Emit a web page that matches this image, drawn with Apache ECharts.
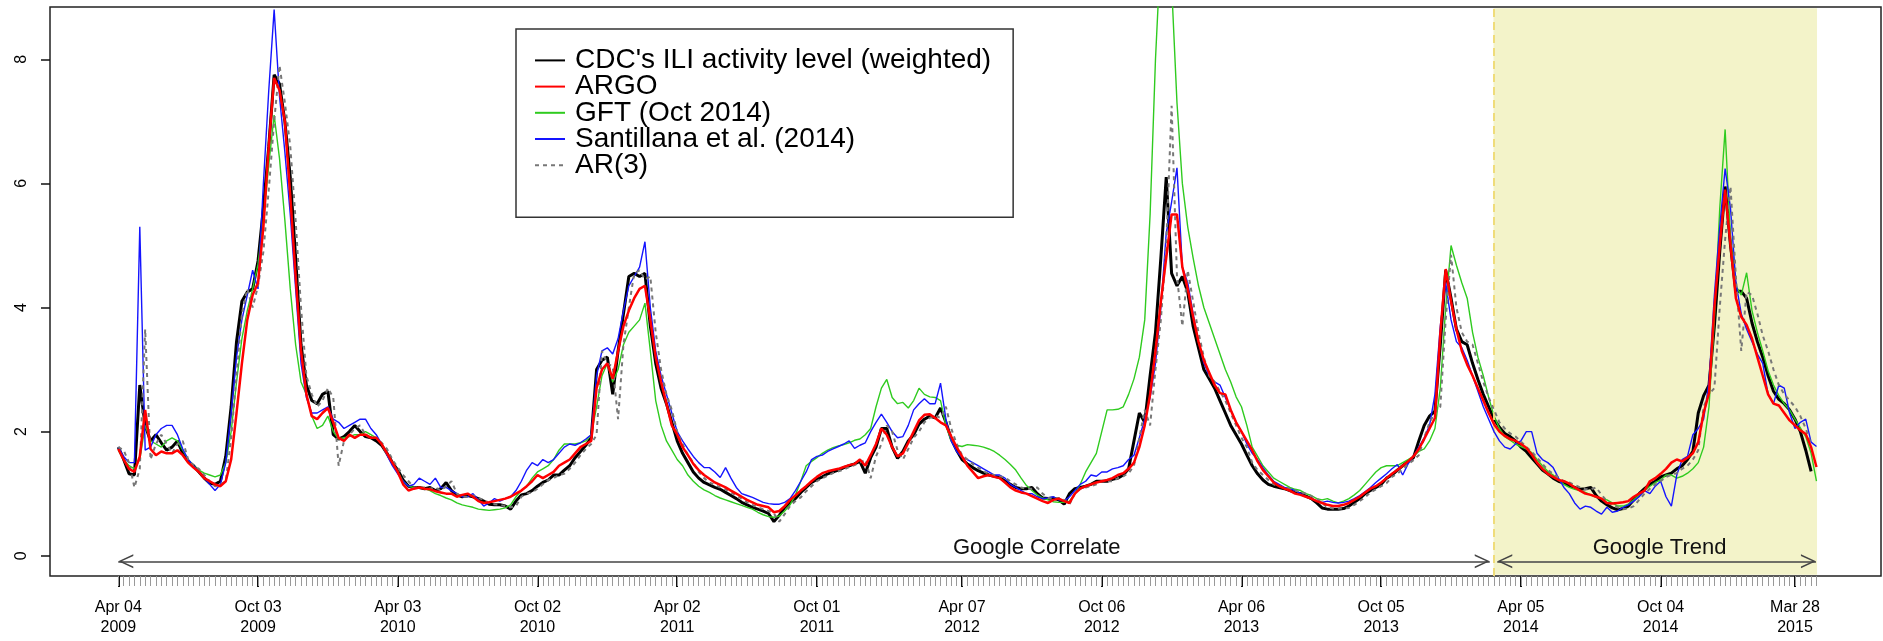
<!DOCTYPE html>
<html>
<head>
<meta charset="utf-8">
<script src="https://cdn.jsdelivr.net/npm/echarts@6/dist/echarts.min.js"></script>
<style>
  html, body { margin: 0; padding: 0; background: #fff; }
  #chart { width: 1883px; height: 641px; }
</style>
</head>
<body>
<div id="chart"></div>
<script>
// weekly series, index 0 = week ending Apr 04 2009
const cdc = [
  1.75, 1.55, 1.32, 1.3, 2.75, 2.1, 1.85, 1.95, 1.82, 1.7,
  1.75, 1.85, 1.65, 1.52, 1.45, 1.35, 1.25, 1.17, 1.15, 1.2,
  1.6, 2.4, 3.45, 4.1, 4.25, 4.3, 4.75, 5.6, 6.6, 7.75,
  7.6, 7.0, 6.1, 4.8, 3.4, 2.75, 2.5, 2.45, 2.6, 2.65,
  1.95, 1.88, 1.92, 2.0, 2.1, 2.0, 1.92, 1.9, 1.85, 1.78,
  1.65, 1.5, 1.38, 1.22, 1.12, 1.1, 1.1, 1.08, 1.1, 1.05,
  1.08, 1.18, 1.05, 0.98, 0.95, 0.97, 0.95, 0.92, 0.88, 0.83,
  0.82, 0.82, 0.8, 0.75, 0.88, 0.98, 1.0, 1.05, 1.12, 1.18,
  1.22, 1.3, 1.3, 1.38, 1.45, 1.58, 1.68, 1.78, 1.9, 3.0,
  3.15, 3.2, 2.6, 3.3, 3.9, 4.5, 4.55, 4.5, 4.55, 3.7,
  3.1, 2.7, 2.45, 2.15, 1.85, 1.65, 1.5, 1.35, 1.25, 1.18,
  1.14, 1.1, 1.07, 1.02, 0.97, 0.92, 0.86, 0.82, 0.78, 0.75,
  0.72, 0.68, 0.55, 0.65, 0.78, 0.86, 0.92, 1.02, 1.1, 1.18,
  1.23, 1.27, 1.32, 1.35, 1.38, 1.42, 1.45, 1.48, 1.52, 1.33,
  1.58, 1.75, 2.05, 2.05, 1.75, 1.57, 1.68, 1.85, 1.95, 2.12,
  2.2, 2.25, 2.22, 2.38, 2.15, 1.88, 1.7, 1.55, 1.48, 1.42,
  1.37, 1.33, 1.3, 1.28, 1.26, 1.2, 1.15, 1.1, 1.08, 1.08,
  1.1, 1.0, 0.93, 0.92, 0.93, 0.9, 0.83, 1.0, 1.08, 1.1,
  1.12, 1.15, 1.2, 1.2, 1.2, 1.23, 1.25, 1.3, 1.4, 1.85,
  2.3, 2.15, 2.9, 3.6, 4.8, 6.1, 4.55, 4.35, 4.5, 4.25,
  3.7, 3.35, 3.0, 2.85, 2.7, 2.5, 2.3, 2.1, 1.95, 1.8,
  1.62, 1.45, 1.32, 1.22, 1.15, 1.12, 1.1, 1.08, 1.05, 1.02,
  1.0, 0.96, 0.92, 0.85, 0.77, 0.75, 0.75, 0.75, 0.76, 0.8,
  0.86, 0.92, 1.0, 1.05, 1.1, 1.15, 1.25, 1.3, 1.38, 1.45,
  1.52, 1.58, 1.85, 2.1, 2.25, 2.33, 3.4, 4.6, 4.15, 3.65,
  3.45, 3.4, 3.1, 2.84, 2.6, 2.4, 2.2, 2.07, 1.97, 1.92,
  1.85, 1.75, 1.68, 1.58, 1.48, 1.38, 1.32, 1.25, 1.2, 1.17,
  1.13, 1.1, 1.07, 1.08, 1.1, 0.97, 0.88, 0.82, 0.77, 0.74,
  0.76, 0.8, 0.9, 1.0, 1.08, 1.15, 1.2, 1.27, 1.3, 1.33,
  1.4, 1.45, 1.55, 1.68, 2.3, 2.58, 2.75, 3.7, 4.9, 5.95,
  5.0, 4.26, 4.26, 4.15, 3.75, 3.45, 3.2, 2.9, 2.65, 2.52,
  2.45, 2.35, 2.2, 2.0, 1.7, 1.36, null
];
const argo = [
  1.72, 1.55, 1.4, 1.35, 1.6, 2.35, 1.72, 1.62, 1.68, 1.65,
  1.65, 1.7, 1.62, 1.5, 1.42, 1.35, 1.25, 1.2, 1.15, 1.12,
  1.2, 1.55, 2.3, 3.1, 3.8, 4.2, 4.4, 5.3, 6.6, 7.7,
  7.5, 7.0, 5.8, 4.5, 3.3, 2.6, 2.25, 2.2, 2.3, 2.38,
  2.15, 1.9, 1.85, 1.95, 1.9, 1.95, 1.95, 1.9, 1.9, 1.8,
  1.65, 1.5, 1.35, 1.15, 1.05, 1.08, 1.1, 1.08, 1.07, 1.04,
  1.02, 1.0, 1.0, 0.95, 0.98, 1.0, 0.95, 0.88, 0.85, 0.86,
  0.88, 0.9, 0.92, 0.95, 1.0, 1.05, 1.12, 1.2, 1.3, 1.25,
  1.3, 1.35, 1.45, 1.5, 1.55, 1.65, 1.75, 1.8, 1.85, 2.7,
  3.0, 3.1, 2.85, 3.3, 3.7, 3.95, 4.15, 4.3, 4.35, 3.8,
  3.2, 2.8, 2.45, 2.1, 1.95, 1.75, 1.62, 1.48, 1.38, 1.3,
  1.24, 1.18, 1.14, 1.1, 1.05, 1.0, 0.95, 0.9, 0.86, 0.82,
  0.8, 0.78, 0.7, 0.72, 0.8, 0.9, 0.97, 1.05, 1.12, 1.2,
  1.27, 1.33, 1.36, 1.38, 1.4, 1.43, 1.46, 1.48, 1.55, 1.45,
  1.62, 1.8, 2.05, 1.95, 1.75, 1.6, 1.65, 1.82, 2.0, 2.18,
  2.27, 2.28, 2.22, 2.15, 2.1, 1.92, 1.75, 1.6, 1.45, 1.35,
  1.25, 1.28, 1.3, 1.27, 1.25, 1.18, 1.1, 1.05, 1.02, 1.0,
  0.96, 0.92, 0.88, 0.85, 0.9, 0.92, 0.88, 0.85, 1.0, 1.08,
  1.12, 1.15, 1.18, 1.2, 1.22, 1.25, 1.3, 1.33, 1.4, 1.5,
  1.75, 2.1, 2.6, 3.3, 4.1, 4.8, 5.5, 5.5, 4.65, 4.3,
  3.85, 3.45, 3.15, 2.95, 2.75, 2.62, 2.6, 2.35, 2.15, 2.0,
  1.85, 1.7, 1.52, 1.38, 1.28, 1.18, 1.12, 1.08, 1.05, 1.0,
  0.98, 0.95, 0.92, 0.88, 0.85, 0.82, 0.8, 0.8, 0.82, 0.85,
  0.9, 0.95, 1.02, 1.08, 1.12, 1.18, 1.25, 1.32, 1.38, 1.45,
  1.52, 1.6, 1.72, 1.88, 2.05, 2.22, 3.58, 4.62, 4.1, 3.65,
  3.3, 3.08, 2.9, 2.7, 2.5, 2.3, 2.12, 2.0, 1.93, 1.88,
  1.85, 1.8, 1.74, 1.63, 1.5, 1.4, 1.32, 1.27, 1.22, 1.2,
  1.16, 1.1, 1.05, 1.0, 0.98, 0.95, 0.92, 0.85, 0.84, 0.85,
  0.86, 0.88, 0.95, 1.0, 1.05, 1.2, 1.25, 1.32, 1.4, 1.5,
  1.55, 1.52, 1.58, 1.65, 1.83, 2.3, 2.62, 4.0, 5.0, 5.9,
  5.0, 4.15, 3.85, 3.72, 3.5, 3.2, 2.9, 2.6, 2.45, 2.42,
  2.3, 2.18, 2.1, 2.02, 1.96, 1.75, 1.43
];
const gft = [
  1.7, 1.55, 1.45, 1.4, 1.55, 2.1, 1.85, 1.8, 1.75, 1.85,
  1.9, 1.85, 1.7, 1.55, 1.45, 1.38, 1.33, 1.3, 1.27, 1.3,
  1.5, 2.0, 2.8, 3.5, 3.95, 4.3, 4.7, 5.4, 6.3, 7.1,
  6.4, 5.4, 4.3, 3.4, 2.8, 2.6, 2.25, 2.05, 2.1, 2.25,
  2.0, 1.88, 1.9, 1.92, 1.95, 1.95, 2.0, 1.95, 1.9, 1.8,
  1.62, 1.48, 1.35, 1.2, 1.12, 1.1, 1.1, 1.08, 1.05, 1.0,
  0.97, 0.93, 0.9, 0.85, 0.82, 0.8, 0.78, 0.75, 0.74, 0.73,
  0.74, 0.75, 0.77, 0.82, 0.95, 1.05, 1.12, 1.25, 1.35, 1.4,
  1.45, 1.55, 1.7, 1.8, 1.8, 1.8, 1.82, 1.85, 1.95, 2.4,
  2.9, 3.1, 2.8, 3.0, 3.4, 3.6, 3.7, 3.8, 4.07, 3.3,
  2.5, 2.1, 1.85, 1.7, 1.55, 1.45, 1.3, 1.2, 1.12, 1.06,
  1.02, 0.97, 0.93, 0.9, 0.87, 0.84, 0.81, 0.78, 0.75, 0.7,
  0.66, 0.63, 0.62, 0.64, 0.72, 0.82, 0.98, 1.2, 1.45, 1.52,
  1.58, 1.65, 1.7, 1.74, 1.77, 1.79, 1.82, 1.86, 1.88, 1.95,
  2.05, 2.4, 2.7, 2.84, 2.55, 2.45, 2.47, 2.38, 2.5, 2.7,
  2.6, 2.56, 2.55, 2.5, 2.1, 1.85, 1.78, 1.76, 1.79, 1.78,
  1.77, 1.75, 1.72, 1.68, 1.62, 1.55, 1.47, 1.38, 1.25, 1.13,
  1.05, 0.98, 0.93, 0.9, 0.87, 0.86, 0.86, 0.88, 1.0, 1.15,
  1.35, 1.5, 1.65, 2.0, 2.35, 2.35, 2.36, 2.4, 2.6, 2.85,
  3.2, 3.8, 5.5, 8.0, 9.8, 10.2, 9.2, 7.3, 6.0, 5.3,
  4.8, 4.35, 4.0, 3.75, 3.5, 3.25, 3.0, 2.8, 2.56, 2.4,
  2.1, 1.75, 1.6, 1.45, 1.35, 1.25, 1.2, 1.15, 1.1, 1.07,
  1.05, 1.0, 0.97, 0.92, 0.9, 0.92, 0.88, 0.85, 0.88, 0.92,
  0.98, 1.05, 1.15, 1.25, 1.35, 1.42, 1.45, 1.45, 1.45, 1.5,
  1.55, 1.6, 1.68, 1.72, 1.85, 2.05, 2.7, 4.0, 5.0, 4.68,
  4.4, 4.15, 3.6, 3.2, 2.9, 2.55, 2.25, 2.05, 1.92, 1.86,
  1.8, 1.76, 1.72, 1.66, 1.55, 1.45, 1.36, 1.3, 1.22, 1.15,
  1.1, 1.07, 1.05, 1.02, 0.98, 0.94, 0.92, 0.9, 0.85, 0.8,
  0.8, 0.83, 0.9, 0.98, 1.05, 1.12, 1.18, 1.22, 1.3, 1.3,
  1.25, 1.28, 1.33, 1.4, 1.5, 1.75, 2.4, 3.8, 5.6, 6.87,
  5.1, 4.35, 4.2, 4.56, 3.95, 3.6, 3.3, 2.98, 2.75, 2.58,
  2.45, 2.35, 2.2, 2.06, 1.92, 1.65, 1.2
];
const santillana = [
  1.75, 1.6, 1.5, 1.5, 5.3, 1.7, 1.75, 1.95, 2.05, 2.1,
  2.1, 1.95, 1.72, 1.55, 1.45, 1.35, 1.25, 1.15, 1.05, 1.15,
  1.5, 2.3, 3.2, 3.8, 4.2, 4.6, 4.3, 6.0, 7.5, 8.8,
  7.4, 6.5, 5.5, 4.3, 3.1, 2.55, 2.3, 2.3, 2.35, 2.4,
  2.2, 2.15, 2.05, 2.1, 2.15, 2.2, 2.2, 2.05, 1.95, 1.8,
  1.62, 1.45, 1.32, 1.2, 1.12, 1.15, 1.25, 1.2, 1.15, 1.25,
  1.1, 1.1, 1.05, 1.0, 0.95, 0.95, 1.0, 0.9, 0.8, 0.85,
  0.92, 0.88, 0.92, 0.95, 1.05, 1.2, 1.38, 1.5, 1.45, 1.55,
  1.5, 1.55, 1.65, 1.75, 1.8, 1.78, 1.82, 1.88, 1.95, 2.9,
  3.3, 3.35, 3.25, 3.5, 3.95, 4.35, 4.5, 4.65, 5.06, 4.0,
  3.3, 2.9, 2.6, 2.3, 2.0, 1.85, 1.72, 1.6, 1.5, 1.42,
  1.42, 1.35, 1.26, 1.42, 1.25, 1.1, 1.0, 0.97, 0.94, 0.9,
  0.86, 0.84, 0.83, 0.83, 0.86, 0.92, 1.05, 1.2, 1.35, 1.55,
  1.6, 1.62, 1.68, 1.72, 1.76, 1.8, 1.85, 1.73, 1.78, 1.82,
  2.0, 2.15, 2.28, 2.15, 2.0, 1.9, 1.92, 2.1, 2.35, 2.45,
  2.53, 2.45, 2.45, 2.78, 2.2, 1.85, 1.68, 1.58, 1.55, 1.5,
  1.45, 1.4, 1.35, 1.3, 1.3, 1.25, 1.15, 1.1, 1.05, 1.0,
  1.0, 0.95, 0.92, 0.93, 0.95, 0.9, 0.88, 0.95, 1.05, 1.15,
  1.2, 1.3, 1.28, 1.35, 1.35, 1.4, 1.42, 1.45, 1.55, 1.62,
  1.9, 2.2, 2.55, 3.1, 4.0, 5.2, 5.7, 6.25, 4.65, 4.4,
  3.9, 3.45, 3.1, 2.9, 2.8, 2.75, 2.55, 2.35, 2.15, 2.0,
  1.8, 1.65, 1.55, 1.42, 1.3, 1.2, 1.15, 1.1, 1.08, 1.05,
  1.0, 0.95, 0.92, 0.88, 0.86, 0.88, 0.86, 0.85, 0.86, 0.88,
  0.92, 0.97, 1.03, 1.1, 1.18, 1.25, 1.32, 1.4, 1.47, 1.3,
  1.48, 1.6, 1.75, 1.9, 2.1, 2.6, 3.7, 4.4, 3.8, 3.45,
  3.35, 3.15, 2.9, 2.65, 2.4, 2.2, 2.0, 1.85, 1.75, 1.72,
  1.8, 1.85, 2.0, 2.0, 1.65, 1.55, 1.5, 1.42, 1.25, 1.1,
  1.0, 0.85, 0.75, 0.8, 0.78, 0.72, 0.67, 0.78, 0.7, 0.72,
  0.78, 0.82, 0.88, 0.95, 1.05, 1.0, 1.12, 1.2, 0.95, 0.8,
  1.3, 1.55, 1.6, 1.95, 2.05, 2.2, 2.8, 4.2, 5.3, 6.24,
  5.6, 4.4, 3.9, 3.65, 3.45, 3.25, 3.1, 2.6, 2.45, 2.75,
  2.7, 2.3, 2.05, 2.15, 2.2, 1.83, 1.76
];
const ar3 = [
  1.75, 1.7, 1.5, 1.1, 1.4, 3.65, 1.55, 1.8, 1.95, 1.8,
  1.65, 1.8, 1.85, 1.55, 1.45, 1.4, 1.3, 1.2, 1.12, 1.15,
  1.2, 1.9, 2.9, 3.9, 4.3, 4.0, 4.35, 4.9, 5.9, 7.0,
  7.9, 7.3, 6.6, 5.4, 4.0, 2.9, 2.6, 2.4, 2.5, 2.7,
  2.55, 1.45, 1.85, 1.95, 2.05, 2.1, 1.95, 1.9, 1.9, 1.82,
  1.72, 1.55, 1.42, 1.3, 1.2, 1.1, 1.1, 1.1, 1.08, 1.1,
  1.05, 1.12, 1.2, 1.0, 0.95, 0.95, 0.97, 0.93, 0.9, 0.85,
  0.83, 0.82, 0.8, 0.78, 0.8, 0.95, 1.0, 1.02, 1.08, 1.15,
  1.22, 1.25, 1.3, 1.32, 1.4, 1.5, 1.62, 1.72, 1.8, 1.95,
  3.3, 3.1, 3.05, 2.2, 3.4, 4.0, 4.55, 4.6, 4.45, 4.5,
  3.6, 3.0, 2.6, 2.35, 2.0, 1.8, 1.62, 1.5, 1.35, 1.25,
  1.18, 1.14, 1.1, 1.07, 1.02, 0.97, 0.92, 0.86, 0.82, 0.78,
  0.75, 0.72, 0.68, 0.55, 0.67, 0.8, 0.88, 0.94, 1.04, 1.12,
  1.2, 1.25, 1.29, 1.33, 1.36, 1.39, 1.43, 1.46, 1.5, 1.55,
  1.25, 1.6, 1.8, 2.1, 2.0, 1.7, 1.55, 1.72, 1.9, 2.0,
  2.15, 2.22, 2.26, 2.22, 2.4, 2.05, 1.8, 1.62, 1.55, 1.48,
  1.42, 1.36, 1.32, 1.3, 1.28, 1.26, 1.2, 1.15, 1.1, 1.08,
  1.08, 1.1, 1.0, 0.93, 0.92, 0.93, 0.9, 0.83, 1.0, 1.08,
  1.1, 1.12, 1.15, 1.2, 1.2, 1.2, 1.25, 1.28, 1.33, 1.45,
  1.9, 2.35, 2.1, 3.0, 3.8, 5.0, 7.25, 4.5, 3.7, 4.6,
  4.1, 3.6, 3.2, 2.9, 2.8, 2.65, 2.5, 2.3, 2.1, 1.9,
  1.75, 1.5, 1.38, 1.3, 1.22, 1.15, 1.12, 1.1, 1.08, 1.05,
  1.02, 1.0, 0.96, 0.92, 0.85, 0.78, 0.76, 0.76, 0.76, 0.77,
  0.82, 0.88, 0.94, 1.02, 1.07, 1.12, 1.17, 1.27, 1.32, 1.4,
  1.47, 1.54, 1.62, 1.9, 2.15, 2.3, 2.4, 3.8, 4.85, 4.0,
  3.6, 3.45, 3.4, 3.1, 2.8, 2.55, 2.35, 2.15, 2.05, 1.97,
  1.92, 1.84, 1.75, 1.68, 1.58, 1.48, 1.38, 1.32, 1.26, 1.2,
  1.18, 1.14, 1.1, 1.07, 1.07, 1.1, 0.98, 0.88, 0.82, 0.78,
  0.75, 0.76, 0.8, 0.9, 1.0, 1.08, 1.15, 1.2, 1.27, 1.3,
  1.33, 1.4, 1.45, 1.55, 1.7, 2.4, 2.6, 2.7, 4.0, 5.1,
  5.95, 4.5, 3.3, 4.25, 4.2, 3.9, 3.55, 3.3, 3.0, 2.75,
  2.6, 2.5, 2.4, 2.25, 2.05, 1.8, null
];

// labelled ticks (week index) and their labels
const tickWeeks = [0, 26, 52, 78, 104, 130, 157, 183, 209, 235, 261, 287, 312];
const tickLabels = ['Apr 04\n2009', 'Oct 03\n2009', 'Apr 03\n2010', 'Oct 02\n2010', 'Apr 02\n2011',
  'Oct 01\n2011', 'Apr 07\n2012', 'Oct 06\n2012', 'Apr 06\n2013', 'Oct 05\n2013',
  'Apr 05\n2014', 'Oct 04\n2014', 'Mar 28\n2015'];
const yTicks = [0, 2, 4, 6, 8];

// periods marked under the curves (week index)
const correlateSpan = [0, 255.2];
const trendSpan = [256.6, 315.9];
const trendShade = [255.9, 316.1];

// plot box in pixels
const BOX_L = 50, BOX_R = 1881, BOX_T = 7, BOX_B = 576;
const W0_PX = 118.3, PX_WEEK = 5.374;
const Y0_PX = 555.7, PX_UNIT = 62.05;
const xMin = (BOX_L - W0_PX) / PX_WEEK;
const xMax = (BOX_R - W0_PX) / PX_WEEK;
const yMax = (Y0_PX - BOX_T) / PX_UNIT;
const yMin = (Y0_PX - BOX_B) / PX_UNIT;
const arrowY = -0.09;

const allWeeks = cdc.map((_, i) => i);
const pairs = arr => arr.map((v, i) => [i, v]);

// open arrow head, tip in the middle of the box
const CHEV = 'path://M0,0 L0.01,0 L0,0.01 Z M7,15 L14,30 L12.3,30 L7,18.4 L1.7,30 L0,30 Z';

const chart = echarts.init(document.getElementById('chart'));

function lineSeries(name, values, color, width, type, z) {
  return {
    name: name,
    type: 'line',
    data: pairs(values),
    showSymbol: false,
    symbol: 'none',
    clip: true,
    z: z,
    lineStyle: { color: color, width: width, type: type },
    itemStyle: { color: color }
  };
}

const option = {
  animation: false,
  textStyle: { fontFamily: 'Liberation Sans, Arial, sans-serif' },
  grid: {
    left: BOX_L, top: BOX_T,
    width: BOX_R - BOX_L, height: BOX_B - BOX_T,
    show: true, borderColor: '#222', borderWidth: 1.5,
    backgroundColor: 'transparent'
  },
  legend: {
    orient: 'vertical',
    left: 516, top: 29,
    padding: [17.4, 22, 38, 18],
    itemGap: -1.8,
    itemWidth: 30,
    itemHeight: 14,
    itemStyle: { opacity: 0 },
    borderColor: '#333', borderWidth: 1.5,
    data: ["CDC's ILI activity level (weighted)", 'ARGO', 'GFT (Oct 2014)', 'Santillana et al. (2014)', 'AR(3)'],
    textStyle: { fontSize: 28, color: '#000', lineHeight: 26.7, padding: [0, 0, 0, 5] }
  },
  xAxis: [
    {
      type: 'value', min: xMin, max: xMax, position: 'bottom',
      axisLine: { show: false, onZero: false },
      splitLine: { show: false },
      axisTick: { show: true, customValues: tickWeeks, length: 11, lineStyle: { color: '#111', width: 2 } },
      axisLabel: {
        customValues: tickWeeks,
        formatter: v => tickLabels[tickWeeks.indexOf(Math.round(v))] || '',
        fontSize: 16, lineHeight: 20, color: '#000', margin: 22
      }
    },
    {
      type: 'value', min: xMin, max: xMax, position: 'bottom',
      axisLine: { show: false, onZero: false },
      splitLine: { show: false },
      axisTick: { show: true, customValues: allWeeks, length: 10, lineStyle: { color: '#999', width: 1 } },
      axisLabel: { show: false }
    }
  ],
  yAxis: {
    type: 'value', min: yMin, max: yMax,
    axisLine: { show: false, onZero: false },
    splitLine: { show: false },
    axisTick: { show: true, customValues: yTicks, length: 9, lineStyle: { color: '#111', width: 1.5 } },
    axisLabel: { customValues: yTicks, rotate: 90, fontSize: 16, color: '#000', margin: 20 }
  },
  series: [
    {
      name: 'shade', type: 'line', data: [], z: 1,
      markArea: {
        silent: true,
        itemStyle: { color: '#f3f3c9' },
        data: [[{ coord: [trendShade[0], yMin + 0.02] }, { coord: [trendShade[1], yMax - 0.02] }]]
      },
      markLine: {
        silent: true, symbol: ['none', 'none'],
        label: { show: false },
        lineStyle: { color: '#efdc7a', type: [8, 5], width: 2 },
        data: [{ xAxis: trendShade[0] }]
      }
    },
    lineSeries("CDC's ILI activity level (weighted)", cdc, '#000000', 3, 'solid', 3),
    lineSeries('GFT (Oct 2014)', gft, '#2fcb1f', 1.4, 'solid', 4),
    lineSeries('Santillana et al. (2014)', santillana, '#1414ff', 1.4, 'solid', 5),
    lineSeries('AR(3)', ar3, '#777777', 2, [4, 4], 6),
    lineSeries('ARGO', argo, '#ff0000', 2.5, 'solid', 7),
    {
      name: 'periods', type: 'line', data: [], z: 8,
      markLine: {
        silent: true,
        symbol: [CHEV, CHEV], symbolSize: [14, 30],
        label: { show: false },
        lineStyle: { color: '#444', type: 'solid', width: 1.5 },
        data: [
          [{ coord: [correlateSpan[0], arrowY] }, { coord: [correlateSpan[1], arrowY] }],
          [{ coord: [trendSpan[0], arrowY] }, { coord: [trendSpan[1], arrowY] }]
        ]
      },
      markPoint: {
        silent: true,
        symbol: 'rect', symbolSize: 1,
        itemStyle: { color: 'rgba(0,0,0,0)' },
        label: { show: true, position: 'inside', fontSize: 22, color: '#111', formatter: p => p.name },
        data: [
          { name: 'Google Correlate', coord: [170.9, 0.12] },
          { name: 'Google Trend', coord: [286.8, 0.12] }
        ]
      }
    }
  ]
};

chart.setOption(option);
</script>
</body>
</html>
